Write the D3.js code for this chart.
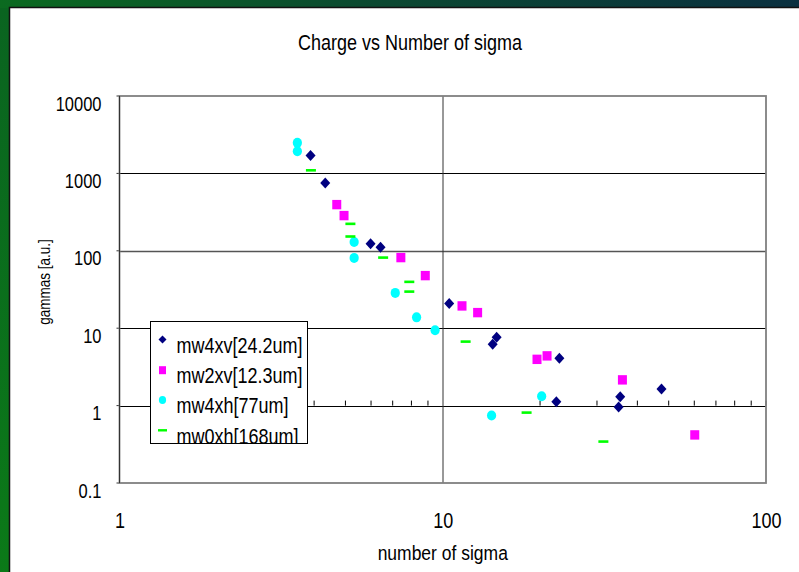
<!DOCTYPE html>
<html>
<head>
<meta charset="utf-8">
<script src="https://cdn.jsdelivr.net/npm/d3@7"></script>
<style>
  body { margin: 0; overflow: hidden; }
  text { font-family: "Liberation Sans", Arial, sans-serif; fill: #000; }
</style>
</head>
<body>
<div id="chart"></div>
<script>
// values
const mw4xvX = [3.90, 4.33, 5.98, 6.42, 10.47, 14.68, 14.27, 22.95, 22.46, 35.4, 35.0, 47.5];
const mw4xvY = [1700, 754, 123, 111, 20.8, 7.63, 6.19, 4.08, 1.12, 1.30, 0.96, 1.64];

const mw2xvX = [4.70, 4.95, 7.42, 8.83, 11.47, 12.82, 19.57, 21.02, 35.96, 60.2];
const mw2xvY = [395, 285, 81.7, 47.8, 19.4, 15.9, 3.96, 4.39, 2.15, 0.418];

const mw4xhX = [3.55, 3.55, 5.32, 5.32, 7.13, 8.30, 9.47, 14.16, 20.23];
const mw4xhY = [2480, 1930, 130, 81, 28.6, 13.8, 9.4, 0.743, 1.32];

const mw0xhX = [3.91, 5.18, 5.18, 6.54, 7.88, 7.88, 11.77, 18.17, 31.4];
const mw0xhY = [1096, 223, 153, 81.7, 39.7, 29.7, 6.71, 0.812, 0.343];

const seriesNames = ["mw4xv[24.2um]", "mw2xv[12.3um]", "mw4xh[77um]", "mw0xh[168um]"];
const xTicks = [1, 10, 100];
const yTicks = [0.1, 1, 10, 100, 1000, 10000];
const xMinor = [2, 3, 4, 5, 6, 7, 8, 9, 20, 30, 40, 50, 60, 70, 80, 90, 100];

const W = 799, H = 572;
const margin = { top: 96, left: 119.5, right: 33, bottom: 89 };
const width = W - margin.left - margin.right,
      height = H - margin.top - margin.bottom;
const stretch = 1.18; // the original text is a bit taller than wide

const svg = d3.select("#chart").append("svg")
    .attr("width", W)
    .attr("height", H);

// slide background
const defs = svg.append("defs");
const gTop = defs.append("linearGradient").attr("id", "topGrad");
gTop.append("stop").attr("offset", "0%").attr("stop-color", "#0b6a20");
gTop.append("stop").attr("offset", "45%").attr("stop-color", "#0b4a30");
gTop.append("stop").attr("offset", "100%").attr("stop-color", "#0a3040");
const gLeft = defs.append("linearGradient").attr("id", "leftGrad")
    .attr("x1", 0).attr("y1", 0).attr("x2", 0).attr("y2", 1);
gLeft.append("stop").attr("offset", "0%").attr("stop-color", "#0a6420");
gLeft.append("stop").attr("offset", "100%").attr("stop-color", "#0b7a18");

svg.append("rect").attr("width", W).attr("height", H).attr("fill", "url(#topGrad)");
svg.append("rect").attr("y", 8).attr("width", 10).attr("height", H).attr("fill", "url(#leftGrad)");
svg.append("rect")
    .attr("x", 9.5).attr("y", 7.5)
    .attr("width", W).attr("height", H)
    .attr("fill", "#fff")
    .attr("stroke", "#111").attr("stroke-width", 1.5);

const x = d3.scaleLog().domain([1, 100]).range([0, width]);
const y = d3.scaleLog().domain([0.1, 10000]).range([height, 0]);

const g = svg.append("g")
    .attr("transform", "translate(" + margin.left + "," + margin.top + ")");

// gridlines
g.append("g")
    .selectAll("line")
    .data(yTicks.filter(d => d > 0.1 && d < 10000))
    .enter().append("line")
    .attr("x1", 0).attr("x2", width)
    .attr("y1", d => Math.round(y(d)) + 0.5).attr("y2", d => Math.round(y(d)) + 0.5)
    .attr("stroke", d => d === 100 ? "#555" : "#000")
    .attr("stroke-width", d => d === 100 ? 1.5 : 1);

g.append("line")
    .attr("x1", Math.round(x(10)) + 0.5).attr("x2", Math.round(x(10)) + 0.5)
    .attr("y1", 0).attr("y2", height)
    .attr("stroke", "#333");

// minor ticks on the axis line at y = 1
g.append("g")
    .selectAll("line")
    .data(xMinor)
    .enter().append("line")
    .attr("x1", d => x(d)).attr("x2", d => x(d))
    .attr("y1", y(1) - 5).attr("y2", y(1))
    .attr("stroke", "#000");

// small ticks on the y axis
g.append("g")
    .selectAll("line")
    .data(yTicks)
    .enter().append("line")
    .attr("x1", -3).attr("x2", 0)
    .attr("y1", d => y(d)).attr("y2", d => y(d))
    .attr("stroke", "#333");

// plot frame
g.append("rect")
    .attr("width", width).attr("height", height)
    .attr("fill", "none")
    .attr("stroke", "#808080").attr("stroke-width", 1.8);
g.append("line")
    .attr("x1", 0).attr("x2", 0).attr("y1", 0).attr("y2", height)
    .attr("stroke", "#333");

// axis labels
const yAxis = g.append("g")
    .call(d3.axisLeft(y).tickValues(yTicks).tickFormat(d3.format("~g")).tickSize(0));
yAxis.select(".domain").remove();
yAxis.selectAll("text")
    .attr("x", 0).attr("y", 0).attr("dy", null)
    .attr("transform", "translate(-18,14) scale(1," + stretch + ")")
    .style("font-size", "16.5px")
    .style("font-family", "'Liberation Sans', Arial, sans-serif");

const xAxis = g.append("g")
    .attr("transform", "translate(0," + height + ")")
    .call(d3.axisBottom(x).tickValues(xTicks).tickFormat(d3.format("~g")).tickSize(0));
xAxis.select(".domain").remove();
xAxis.selectAll("text")
    .attr("y", 0).attr("dy", null)
    .attr("transform", "translate(0,44.5) scale(1," + stretch + ")")
    .style("font-size", "18px")
    .style("font-family", "'Liberation Sans', Arial, sans-serif");

// titles
svg.append("text")
    .attr("transform", "translate(410,50) scale(1," + stretch + ")")
    .attr("text-anchor", "middle")
    .style("font-size", "18px")
    .text("Charge vs Number of sigma");

svg.append("text")
    .attr("transform", "translate(" + (margin.left + x(10)) + ",560) scale(1," + stretch + ")")
    .attr("text-anchor", "middle")
    .style("font-size", "17.5px")
    .text("number of sigma");

svg.append("text")
    .attr("transform", "translate(49.5,282) rotate(-90) scale(1," + stretch + ")")
    .attr("text-anchor", "middle")
    .style("font-size", "13.5px")
    .text("gammas [a.u.]");

// markers
const navy = "#000080", magenta = "#ff00ff", cyan = "#00ffff", green = "#00ff00";

function pts(xs, ys) { return xs.map((v, i) => [v, ys[i]]); }

g.append("g").selectAll("path")
    .data(pts(mw4xvX, mw4xvY))
    .enter().append("path")
    .attr("transform", d => "translate(" + x(d[0]) + "," + y(d[1]) + ")")
    .attr("d", "M0,-5.5L5,0L0,5.5L-5,0Z")
    .attr("fill", navy);

g.append("g").selectAll("rect")
    .data(pts(mw2xvX, mw2xvY))
    .enter().append("rect")
    .attr("x", d => x(d[0]) - 4.5).attr("y", d => y(d[1]) - 4.7)
    .attr("width", 9).attr("height", 9.4)
    .attr("fill", magenta);

g.append("g").selectAll("ellipse")
    .data(pts(mw4xhX, mw4xhY))
    .enter().append("ellipse")
    .attr("cx", d => x(d[0])).attr("cy", d => y(d[1]))
    .attr("rx", 4.6).attr("ry", 5)
    .attr("fill", cyan);

g.append("g").selectAll("rect")
    .data(pts(mw0xhX, mw0xhY))
    .enter().append("rect")
    .attr("x", d => x(d[0]) - 5).attr("y", d => y(d[1]) - 1.3)
    .attr("width", 10).attr("height", 2.6)
    .attr("fill", green);

// legend
const lg = svg.append("g").attr("transform", "translate(150.5,321.5)");
defs.append("clipPath").attr("id", "legClip")
    .append("rect").attr("width", 157).attr("height", 122);
lg.append("rect")
    .attr("width", 157).attr("height", 122)
    .attr("fill", "#fff").attr("stroke", "#000");
const items = lg.append("g").attr("clip-path", "url(#legClip)")
    .selectAll("g")
    .data(seriesNames)
    .enter().append("g")
    .attr("transform", (d, i) => "translate(0," + (18 + i * 30.2) + ")");
items.append("text")
    .attr("transform", "translate(26,13.5) scale(1," + stretch + ")")
    .style("font-size", "18px")
    .text(d => d);

const lgMarks = [
  sel => sel.append("path").attr("d", "M12,-4L16,0L12,4L8,0Z").attr("fill", navy),
  sel => sel.append("rect").attr("x", 8.5).attr("y", -3.5).attr("width", 7).attr("height", 8).attr("fill", magenta),
  sel => sel.append("ellipse").attr("cx", 12).attr("cy", 0).attr("rx", 3.6).attr("ry", 4).attr("fill", cyan),
  sel => sel.append("rect").attr("x", 7.5).attr("y", -1).attr("width", 9).attr("height", 2.4).attr("fill", green)
];
items.each(function(d, i) { lgMarks[i](d3.select(this)); });
</script>
</body>
</html>
